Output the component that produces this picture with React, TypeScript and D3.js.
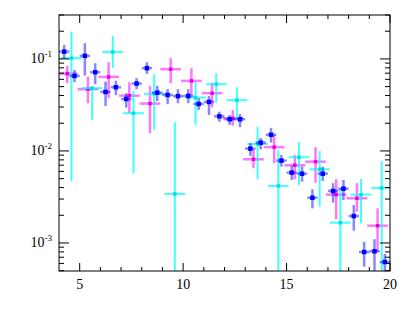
import React from 'react';
import * as d3 from 'd3';

// blue series, bins of 0.5
const blueX = [4.25, 4.75, 5.25, 5.75, 6.25, 6.75, 7.25, 7.75, 8.25, 8.75, 9.25, 9.75, 10.25, 10.75, 11.25, 11.75,
    12.25, 12.75, 13.25, 13.75, 14.25, 14.75, 15.25, 15.75, 16.25, 16.75, 17.25, 17.75, 18.25, 18.75, 19.25, 19.75];
const blueY = [0.120, 0.0653, 0.108, 0.0717, 0.0438, 0.0492, 0.0367, 0.054, 0.0793, 0.043, 0.0406, 0.0394, 0.0396, 0.0324, 0.0341, 0.0238,
    0.0221, 0.0221, 0.0106, 0.0123, 0.0150, 0.00785, 0.00581, 0.00566, 0.0031, 0.00566, 0.00367, 0.00389, 0.00196, 0.000798, 0.000812, 0.000621];
const blueLo = [0.102, 0.0558, 0.066, 0.0531, 0.0308, 0.0403, 0.0296, 0.0469, 0.0688, 0.0349, 0.0324, 0.033, 0.033, 0.0279, 0.0246, 0.0208,
    0.0192, 0.0181, 0.00883, 0.0104, 0.0123, 0.00675, 0.00484, 0.00464, 0.00238, 0.00472, 0.00274, 0.00293, 0.00136, 0.000552, 0.0004, 0.0004];
const blueHi = [0.142, 0.0759, 0.148, 0.0897, 0.0566, 0.058, 0.0424, 0.0617, 0.092, 0.0509, 0.0469, 0.0469, 0.0469, 0.0374, 0.0396, 0.0267,
    0.0246, 0.0252, 0.0121, 0.0138, 0.0178, 0.00905, 0.00692, 0.00675, 0.00384, 0.00675, 0.00446, 0.00484, 0.00259, 0.00103, 0.0011, 0.000759];

// magenta series, bins of 1
const magX = [4.4, 5.4, 6.4, 7.4, 8.4, 9.4, 10.4, 11.4, 12.4, 13.4, 14.4, 15.4, 16.4, 17.4, 18.4, 19.4];
const magY = [0.0692, 0.0469, 0.0637, 0.0399, 0.0327, 0.0773, 0.0577, 0.0424, 0.0226, 0.00812, 0.0110, 0.00699, 0.00765, 0.00335, 0.00306, 0.00154];
const magLo = [0.0545, 0.033, 0.0374, 0.0257, 0.0156, 0.0545, 0.0406, 0.0299, 0.0188, 0.00649, 0.00735, 0.00492, 0.00452, 0.00181, 0.00219, 0.000803];
const magHi = [0.0839, 0.0643, 0.092, 0.0558, 0.0509, 0.102, 0.0793, 0.0552, 0.0279, 0.0103, 0.0149, 0.00905, 0.011, 0.00492, 0.00446, 0.00238];

// cyan series, bins of 1
const cyanX = [4.6, 5.6, 6.6, 7.6, 8.6, 9.6, 10.6, 11.6, 12.6, 13.6, 14.6, 15.6, 16.6, 17.6, 18.6, 19.6];
const cyanY = [0.102, 0.0481, 0.119, 0.0257, 0.0417, 0.00341, 0.038, 0.0531, 0.0356, 0.0119, 0.00417, 0.00855, 0.00632, 0.00166, 0.00335, 0.00396];
const cyanLo = [0.00472, 0.0217, 0.0793, 0.00573, 0.0169, 0.0003, 0.0192, 0.0335, 0.0227, 0.00492, 0.0003, 0.00427, 0.00248, 0.0003, 0.00164, 0.0003];
const cyanHi = [0.198, 0.05, 0.178, 0.0449, 0.0682, 0.0205, 0.0558, 0.07, 0.0492, 0.0184, 0.0102, 0.01245, 0.01, 0.00393, 0.00496, 0.00778];

const xTicks = [5, 6, 7, 8, 9, 10, 11, 12, 13, 14, 15, 16, 17, 18, 19, 20];
const xLabels = [5, 10, 15, 20];
const yLabels = [-1, -2, -3];

const W = 409, H = 327;
const left = 59, right = 390, top = 15, bottom = 271;

export default function App() {
    const x = d3.scaleLinear().domain([4, 20]).range([left, right]);
    const y = d3.scaleLog().domain([0.000496, 0.30]).range([bottom, top]);
    const yTicks = y.ticks().filter(t => t >= 0.000496 && t <= 0.30);

    const series = [
        { xs: magX, ys: magY, lo: magLo, hi: magHi, hw: 0.5, bar: '#ff3cff', barOp: 0.7, barW: 2.5, mark: '#e600e6', ms: 3.5 },
        { xs: cyanX, ys: cyanY, lo: cyanLo, hi: cyanHi, hw: 0.5, bar: '#00ffff', barOp: 0.75, barW: 2, mark: '#00e0e0', ms: 3.5 },
        { xs: blueX, ys: blueY, lo: blueLo, hi: blueHi, hw: 0.25, bar: '#1010ff', barOp: 0.5, barW: 2.5, mark: '#0000ff', ms: 4.5 },
    ];

    return (
        <svg width={W} height={H} style={{ position: 'absolute', left: 0, top: 0, background: '#fff' }}
            fontFamily="'Liberation Serif', serif">
            <defs>
                <clipPath id="plot"><rect x={left} y={top} width={right - left} height={bottom - top} /></clipPath>
            </defs>
            <g clipPath="url(#plot)">
                {series.map((s, si) => (
                    <g key={si}>
                        {s.xs.map((xv, i) => (
                            <g key={i} stroke={s.bar} strokeOpacity={s.barOp} strokeWidth={s.barW}>
                                <line x1={x(xv - s.hw)} x2={x(xv + s.hw)} y1={y(s.ys[i])} y2={y(s.ys[i])} />
                                <line x1={x(xv)} x2={x(xv)} y1={y(s.lo[i])} y2={y(s.hi[i])} />
                            </g>
                        ))}
                        {s.xs.map((xv, i) => (
                            <rect key={'m' + i} x={x(xv) - s.ms / 2} y={y(s.ys[i]) - s.ms / 2}
                                width={s.ms} height={s.ms} fill={s.mark} />
                        ))}
                    </g>
                ))}
            </g>
            {/* frame */}
            <rect x={left} y={top} width={right - left} height={bottom - top} fill="none" stroke="#000" strokeWidth={1} />
            {/* x ticks, bottom and top */}
            {xTicks.map(t => {
                const len = t % 5 === 0 ? 8 : 4;
                return (
                    <g key={'x' + t} stroke="#000" strokeWidth={1}>
                        <line x1={x(t)} x2={x(t)} y1={bottom} y2={bottom - len} />
                        <line x1={x(t)} x2={x(t)} y1={top} y2={top + len} />
                    </g>
                );
            })}
            {xLabels.map(t => (
                <text key={'xl' + t} x={x(t)} y={289} textAnchor="middle" fontSize={14}>{t}</text>
            ))}
            {/* y ticks, left and right */}
            {yTicks.map((t, i) => {
                const major = Math.abs(Math.log10(t) - Math.round(Math.log10(t))) < 1e-6;
                const len = major ? 10 : 5;
                return (
                    <g key={'y' + i} stroke="#000" strokeWidth={1}>
                        <line x1={left} x2={left + len} y1={y(t)} y2={y(t)} />
                        <line x1={right} x2={right - len} y1={y(t)} y2={y(t)} />
                    </g>
                );
            })}
            {yLabels.map(e => (
                <text key={'yl' + e} x={52} y={y(Math.pow(10, e)) + 4} textAnchor="end" fontSize={14}>
                    10<tspan dy={-6} fontSize={9}>{e}</tspan>
                </text>
            ))}
        </svg>
    );
}
